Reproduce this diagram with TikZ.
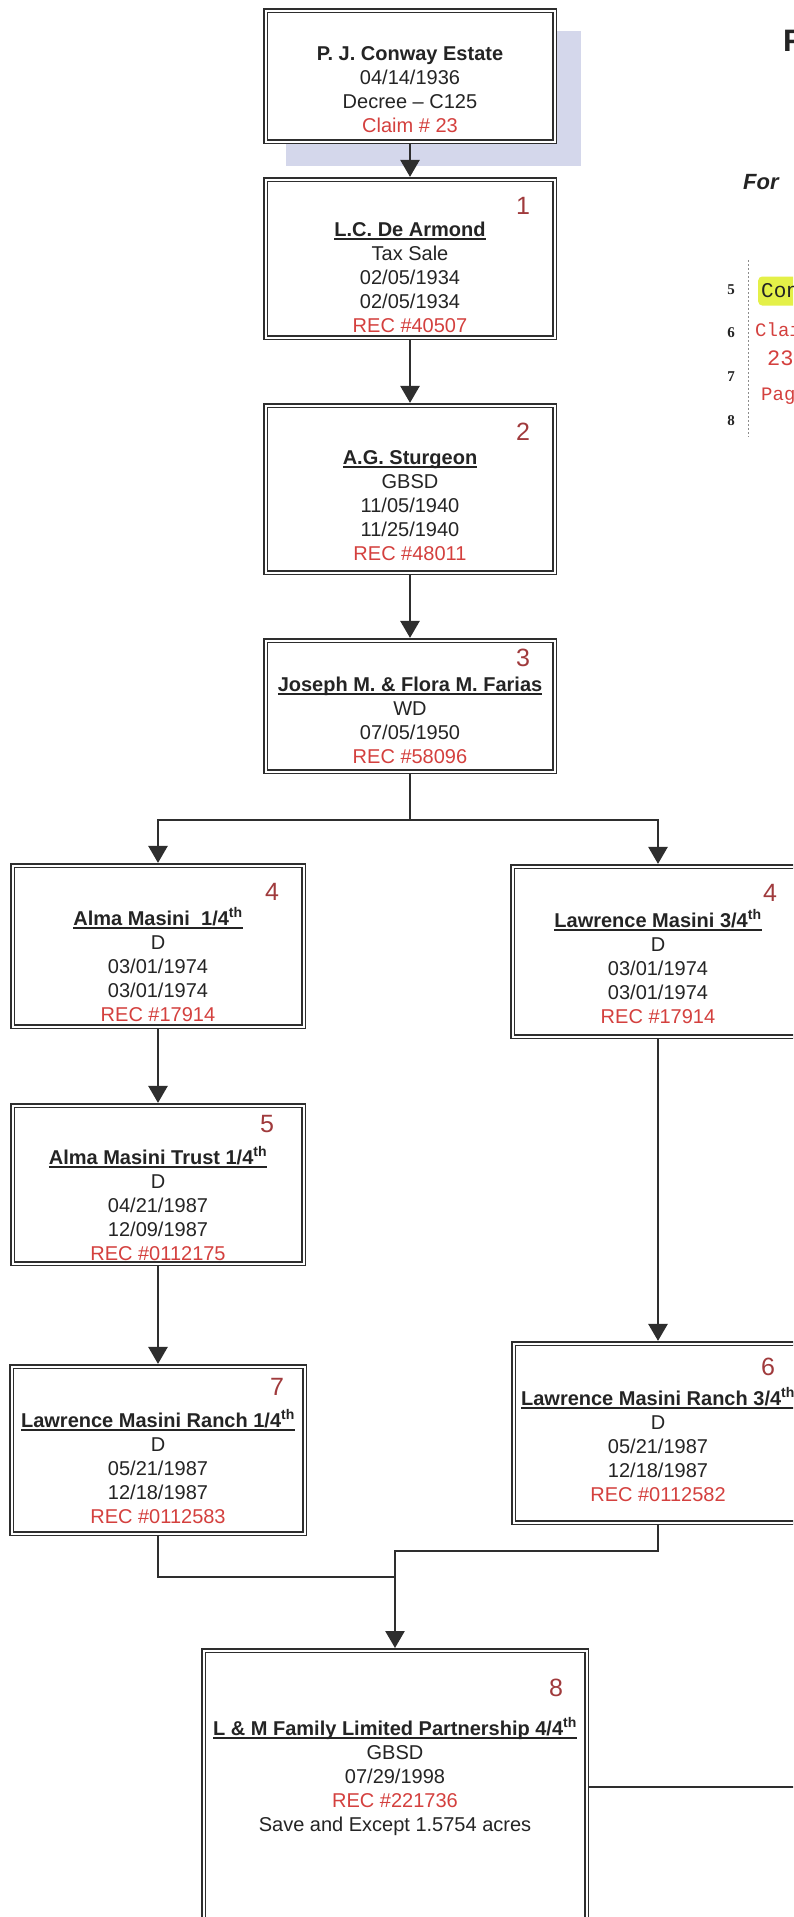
\documentclass[tikz,border=0pt]{standalone}
\usepackage{fontspec}
\setmainfont{Liberation Sans}
\newfontfamily\mono{Liberation Mono}
\newfontfamily\serifa{Liberation Serif}
\usetikzlibrary{arrows.meta,positioning}

% titulo subrayado (la raya cruza los descendentes)
\newsavebox{\cajatexto}
\newcommand{\titular}[1]{\sbox\cajatexto{\bfseries #1}\rlap{\rule[-4pt]{\wd\cajatexto}{1.8pt}}\usebox\cajatexto}
\newcommand{\rec}[1]{\textcolor{recrojo}{#1}}
\newcommand{\tope}{\rule{0pt}{20pt}}

\begin{document}
\begin{tikzpicture}[x=1pt,y=-1pt,
    caja/.style={draw=linea, fill=white, line width=1.6pt, double=white, double distance=2pt, outer sep=2.6pt, inner sep=0pt},
    texto/.style={text=tinta, font=\fontsize{20}{24}\selectfont, align=center, inner sep=0pt, anchor=north},
    numero/.style={text=numrojo, font=\fontsize{25}{25}\selectfont, inner sep=0pt},
    flecha/.style={draw=linea, line width=2.6pt, -{Triangle[width=19pt,length=17pt]}},
    conector/.style={draw=linea, line width=2.6pt},
    codigo/.style={text=recrojo, font=\mono\fontsize{19}{19}\selectfont, inner sep=0pt, anchor=west}]
        %colores
        \colorlet{linea}{black!82}
        \colorlet{tinta}{black!86}
        \definecolor{numrojo}{RGB}{160,58,60}
        \definecolor{recrojo}{RGB}{212,64,62}
        \definecolor{lavanda}{RGB}{212,215,235}
        \definecolor{amarillo}{RGB}{228,240,72}

        % marco de la pagina
        \useasboundingbox (0,0) rectangle (793,1917);
        \clip (0,0) rectangle (793,1917);
        \fill[white] (0,0) rectangle (793,1917);

        % sombra y origen
        \fill[lavanda] (286,31) rectangle (581,166);
        \node[caja, minimum width=289pt, minimum height=131pt] (finca) at (410,76) {};
        \node[texto] (tfinca) at (410,40) {\tope\textbf{P. J. Conway Estate}\\04/14/1936\\Decree -- C125\\\rec{Claim \# 23}};

        % cadena central
        \node[caja, minimum width=289pt, minimum height=158pt] (c1) at (410,258.5) {};
        \node[texto] (t1) at (410,216) {\tope\titular{L.C. De Armond}\\Tax Sale\\02/05/1934\\02/05/1934\\\rec{REC \#40507}};
        \node[numero] (n1) at (523,206) {1};

        \node[caja, minimum width=289pt, minimum height=167pt] (c2) at (410,489) {};
        \node[texto] (t2) at (410,444) {\tope\titular{A.G. Sturgeon}\\GBSD\\11/05/1940\\11/25/1940\\\rec{REC \#48011}};
        \node[numero] (n2) at (523,432) {2};

        \node[caja, minimum width=289pt, minimum height=131pt] (c3) at (410,706) {};
        \node[texto] (t3) at (410,671) {\tope\titular{Joseph M. \& Flora M. Farias}\\WD\\07/05/1950\\\rec{REC \#58096}};
        \node[numero] (n3) at (523,658) {3};

        % rama izquierda
        \node[caja, minimum width=291pt, minimum height=161pt] (c4a) at (158,946) {};
        \node[texto] (t4a) at (158,905) {\tope\titular{Alma Masini\ \ 1/4\textsuperscript{th}}\\D\\03/01/1974\\03/01/1974\\\rec{REC \#17914}};
        \node[numero] (n4a) at (272,892) {4};

        \node[caja, minimum width=291pt, minimum height=158pt] (c5) at (158,1184.5) {};
        \node[texto] (t5) at (158,1144) {\tope\titular{Alma Masini Trust 1/4\textsuperscript{th}}\\D\\04/21/1987\\12/09/1987\\\rec{REC \#0112175}};
        \node[numero] (n5) at (267,1124) {5};

        \node[caja, minimum width=293pt, minimum height=167pt] (c7) at (158,1450) {};
        \node[texto] (t7) at (158,1407) {\tope\titular{Lawrence Masini Ranch 1/4\textsuperscript{th}}\\D\\05/21/1987\\12/18/1987\\\rec{REC \#0112583}};
        \node[numero] (n7) at (277,1387) {7};

        % rama derecha
        \node[caja, minimum width=291pt, minimum height=170pt] (c4b) at (658,951.5) {};
        \node[texto] (t4b) at (658,907) {\tope\titular{Lawrence Masini 3/4\textsuperscript{th}}\\D\\03/01/1974\\03/01/1974\\\rec{REC \#17914}};
        \node[numero] (n4b) at (770,893) {4};

        \node[caja, minimum width=289pt, minimum height=179pt] (c6) at (658,1433) {};
        \node[texto] (t6) at (658,1385) {\tope\titular{Lawrence Masini Ranch 3/4\textsuperscript{th}}\\D\\05/21/1987\\12/18/1987\\\rec{REC \#0112582}};
        \node[numero] (n6) at (768,1367) {6};

        % union final
        \node[caja, minimum width=383pt, minimum height=300pt] (c8) at (395,1800.6) {};
        \node[texto] (t8) at (395,1715) {\tope\titular{L \& M Family Limited Partnership 4/4\textsuperscript{th}}\\GBSD\\07/29/1998\\\rec{REC \#221736}\\Save and Except 1.5754 acres};
        \node[numero] (n8) at (556,1688) {8};

        % flechas
        \draw[flecha] (finca) -- (c1);
        \draw[flecha] (c1) -- (c2);
        \draw[flecha] (c2) -- (c3);
        \coordinate (rama) at (410,820);
        \draw[conector] (c3.south) -- (rama);
        \draw[flecha] (rama) -| (c4a.north);
        \draw[flecha] (rama) -| (c4b.north);
        \draw[flecha] (c4a) -- (c5);
        \draw[flecha] (c5) -- (c7);
        \draw[flecha] (c4b) -- (c6);
        \coordinate (juntura) at (395,1577);
        \draw[conector] (c7.south) |- (juntura);
        \draw[flecha] (c6.south) -- ++(0,26) -| (c8.north);
        \coordinate (salida) at (800,1787);
        \draw[conector] (c8.east |- salida) -- (salida);

        % pagina vecina, cortada
        \node[text=tinta, font=\bfseries\fontsize{31}{31}\selectfont, inner sep=0pt, anchor=west] (letraF) at (783,41) {F};
        \node[text=tinta, font=\bfseries\itshape\fontsize{22}{22}\selectfont, inner sep=0pt, anchor=west] (para) at (743,182) {For};
        \foreach \n/\y in {5/290,6/333,7/377,8/421}
            \node[text=tinta, font=\serifa\bfseries\fontsize{15}{15}\selectfont, inner sep=0pt] (l\n) at (731,\y) {\n};
        \draw[black!45, line width=1pt, dash pattern=on 2pt off 2pt] (748,260) -- (748,437);
        \node[fill=amarillo, rounded corners=4pt, inner xsep=3pt, minimum height=29pt, anchor=west, text=tinta, font=\mono\fontsize{21}{21}\selectfont] (con) at (758,291) {Con};
        \node[codigo] (clai) at (755,330) {Clai};
        \node[codigo, font=\mono\fontsize{22}{22}\selectfont] (veintitres) at (767,358) {23};
        \node[codigo] (pag) at (761,396) {Pag};
    \end{tikzpicture}
\end{document}
